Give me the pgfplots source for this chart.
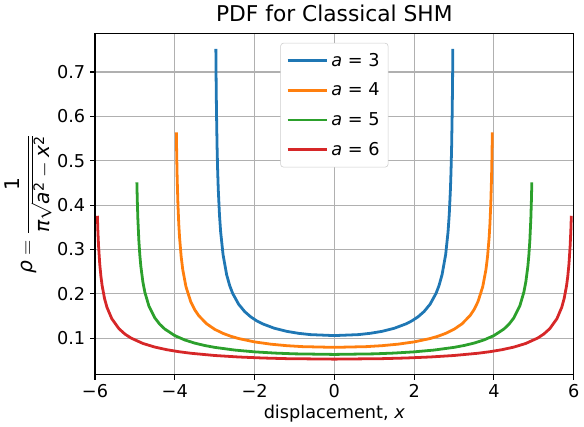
\documentclass[border=0pt]{standalone}
\usepackage{fontspec}
\setmainfont{DejaVu Sans}
\usepackage{amsmath}
\usepackage{pgfplots}
\pgfplotsset{compat=1.18}
\usepackage{pgfplotstable}
\definecolor{tabblue}{HTML}{1F77B4}
\definecolor{taborange}{HTML}{FF7F0E}
\definecolor{tabgreen}{HTML}{2CA02C}
\definecolor{tabred}{HTML}{D62728}
\definecolor{gridgray}{HTML}{B0B0B0}
\definecolor{leggray}{HTML}{CCCCCC}

\pgfplotstableread{
x y
-2.97 0.75214
-2.964 0.68697
-2.955 0.61490
-2.94 0.53318
-2.925 0.47750
-2.91 0.43645
-2.88 0.37894
-2.85 0.33980
-2.79 0.28867
-2.7 0.24342
-2.625 0.21917
-2.55 0.20142
-2.4 0.17684
-2.25 0.16041
-2.1 0.14857
-1.95 0.13962
-1.8 0.13263
-1.5 0.12252
-1.2 0.11577
-0.9 0.11123
-0.6 0.10829
0 0.10610
0.6 0.10829
0.9 0.11123
1.2 0.11577
1.5 0.12252
1.8 0.13263
1.95 0.13962
2.1 0.14857
2.25 0.16041
2.4 0.17684
2.55 0.20142
2.625 0.21917
2.7 0.24342
2.79 0.28867
2.85 0.33980
2.88 0.37894
2.91 0.43645
2.925 0.47750
2.94 0.53318
2.955 0.61490
2.964 0.68697
2.97 0.75214
}\dataA

\pgfplotstableread{
x y
-3.96 0.56411
-3.952 0.51523
-3.94 0.46118
-3.92 0.39989
-3.9 0.35813
-3.88 0.32734
-3.84 0.28421
-3.8 0.25485
-3.72 0.21650
-3.6 0.18256
-3.5 0.16438
-3.4 0.15106
-3.2 0.13263
-3.0 0.12031
-2.8 0.11143
-2.6 0.10472
-2.4 0.09947
-2.0 0.09189
-1.6 0.08683
-1.2 0.08342
-0.8 0.08122
0 0.07958
0.8 0.08122
1.2 0.08342
1.6 0.08683
2.0 0.09189
2.4 0.09947
2.6 0.10472
2.8 0.11143
3.0 0.12031
3.2 0.13263
3.4 0.15106
3.5 0.16438
3.6 0.18256
3.72 0.21650
3.8 0.25485
3.84 0.28421
3.88 0.32734
3.9 0.35813
3.92 0.39989
3.94 0.46118
3.952 0.51523
3.96 0.56411
}\dataB

\pgfplotstableread{
x y
-4.95 0.45129
-4.94 0.41218
-4.925 0.36894
-4.9 0.31991
-4.875 0.28650
-4.85 0.26187
-4.8 0.22736
-4.75 0.20388
-4.65 0.17320
-4.5 0.14605
-4.375 0.13150
-4.25 0.12085
-4.0 0.10610
-3.75 0.09625
-3.5 0.08914
-3.25 0.08377
-3.0 0.07958
-2.5 0.07351
-2.0 0.06946
-1.5 0.06674
-1.0 0.06497
0 0.06366
1.0 0.06497
1.5 0.06674
2.0 0.06946
2.5 0.07351
3.0 0.07958
3.25 0.08377
3.5 0.08914
3.75 0.09625
4.0 0.10610
4.25 0.12085
4.375 0.13150
4.5 0.14605
4.65 0.17320
4.75 0.20388
4.8 0.22736
4.85 0.26187
4.875 0.28650
4.9 0.31991
4.925 0.36894
4.94 0.41218
4.95 0.45129
}\dataC

\pgfplotstableread{
x y
-5.94 0.37607
-5.928 0.34348
-5.91 0.30745
-5.88 0.26659
-5.85 0.23875
-5.82 0.21823
-5.76 0.18947
-5.7 0.16990
-5.58 0.14434
-5.4 0.12171
-5.25 0.10958
-5.1 0.10071
-4.8 0.08842
-4.5 0.08021
-4.2 0.07429
-3.9 0.06981
-3.6 0.06632
-3.0 0.06126
-2.4 0.05788
-1.8 0.05561
-1.2 0.05415
0 0.05305
1.2 0.05415
1.8 0.05561
2.4 0.05788
3.0 0.06126
3.6 0.06632
3.9 0.06981
4.2 0.07429
4.5 0.08021
4.8 0.08842
5.1 0.10071
5.25 0.10958
5.4 0.12171
5.58 0.14434
5.7 0.16990
5.76 0.18947
5.82 0.21823
5.85 0.23875
5.88 0.26659
5.91 0.30745
5.928 0.34348
5.94 0.37607
}\dataD

\begin{document}
\begin{tikzpicture}
\begin{axis}[
  scale only axis,
  width=343.4pt, height=244.8pt,
  xmin=-6, xmax=6,
  ymin=0.0181, ymax=0.7871,
  xtick={-6,-4,-2,0,2,4,6},
  xticklabels={−6,−4,−2,0,2,4,6},
  ytick={0.1,0.2,0.3,0.4,0.5,0.6,0.7},
  yticklabel style={/pgf/number format/fixed,/pgf/number format/precision=1,/pgf/number format/fixed zerofill},
  /pgf/number format/assume math mode=true,
  tick label style={font=\fontsize{12.7}{15}\selectfont},
  tick pos=left,
  tick align=outside,
  major tick length=3.5pt,
  every tick/.style={black, line width=0.8pt},
  axis line style={black, line width=0.8pt},
  grid=major,
  major grid style={gridgray, line width=0.8pt},
  title={PDF for Classical SHM},
  title style={font=\fontsize{15.6}{18}\selectfont, yshift=-1pt},
  xlabel={displacement, \textit{x}},
  xlabel style={font=\fontsize{12.7}{15}\selectfont, yshift=2pt},
  ylabel={$\textit{ρ} = \dfrac{\text{1}}{\textit{π}\sqrt{\textit{a}^{\text{2}}-\textit{x}^{\text{2}}}}$},
  ylabel style={font=\fontsize{14.5}{17}\selectfont, yshift=-3pt},
  legend style={at={(0.5,0.972)}, anchor=north, draw=leggray, rounded corners=2pt,
    font=\fontsize{12.7}{15}\selectfont, row sep=6.5pt, inner xsep=4pt, inner ysep=5pt},
  legend cell align=left,
  legend image code/.code={\draw[#1] (0cm,0cm) -- (1cm,0cm);},
]
\addplot[tabblue, line width=2pt] table[x=x,y=y] {\dataA};
\addlegendentry{\textit{a} = 3}
\addplot[taborange, line width=2pt] table[x=x,y=y] {\dataB};
\addlegendentry{\textit{a} = 4}
\addplot[tabgreen, line width=2pt] table[x=x,y=y] {\dataC};
\addlegendentry{\textit{a} = 5}
\addplot[tabred, line width=2pt] table[x=x,y=y] {\dataD};
\addlegendentry{\textit{a} = 6}
\end{axis}
\end{tikzpicture}
\end{document}
